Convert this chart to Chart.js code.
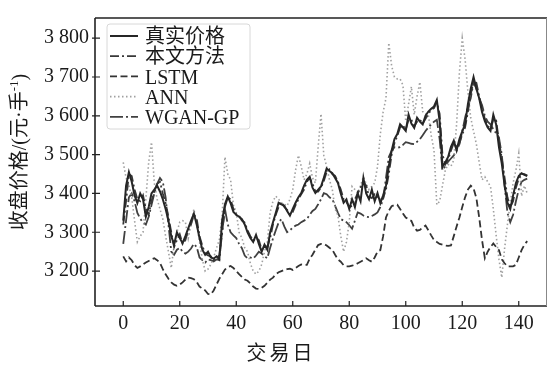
<!DOCTYPE html>
<html><head><meta charset="utf-8">
<script src="https://cdn.jsdelivr.net/npm/chart.js@4/dist/chart.umd.min.js"></script>
<style>html,body{margin:0;padding:0;background:#fff}#wrap{width:548px;height:365px}</style>
</head><body><div id="wrap"><canvas id="c" width="548" height="365"></canvas></div>
<script>
const days = Array.from({length:144},(_,i)=>i);
const seriesNames = ['真实价格','本文方法','LSTM','ANN','WGAN-GP'];
const truePrice = [
3330,3420,3455,3430,3395,3375,3400,3385,3340,3365,
3400,3410,3420,3405,3385,3360,3330,3290,3268,3300,
3285,3272,3290,3310,3330,3348,3320,3285,3255,3242,
3250,3235,3232,3238,3230,3330,3372,3392,3375,3352,
3345,3340,3334,3320,3300,3285,3275,3293,3270,3250,
3268,3255,3300,3326,3350,3376,3372,3368,3355,3343,
3360,3376,3390,3401,3420,3435,3443,3415,3401,3410,
3418,3440,3464,3458,3452,3440,3427,3400,3376,3385,
3360,3385,3365,3400,3380,3440,3400,3385,3410,3380,
3401,3375,3395,3420,3470,3510,3540,3553,3578,3570,
3561,3603,3580,3569,3595,3585,3578,3600,3611,3618,
3624,3641,3586,3469,3480,3494,3520,3536,3511,3540,
3560,3578,3630,3670,3700,3670,3645,3610,3586,3570,
3561,3603,3578,3519,3477,3420,3376,3360,3395,3427,
3445,3452,3448,3445];
const ourMethod = [
3320,3380,3450,3445,3410,3385,3380,3395,3360,3345,
3380,3405,3425,3430,3400,3375,3340,3300,3262,3280,
3295,3270,3280,3305,3320,3345,3335,3290,3265,3245,
3240,3238,3228,3235,3240,3300,3365,3390,3385,3360,
3345,3342,3330,3325,3305,3290,3278,3285,3280,3255,
3260,3262,3285,3320,3345,3365,3378,3365,3358,3345,
3352,3370,3385,3398,3410,3430,3440,3425,3405,3405,
3415,3432,3455,3462,3450,3445,3430,3410,3385,3378,
3365,3368,3385,3400,3415,3430,3420,3392,3388,3398,
3392,3384,3388,3410,3450,3500,3530,3548,3570,3575,
3565,3590,3590,3572,3585,3590,3580,3592,3605,3615,
3620,3635,3605,3500,3475,3488,3510,3530,3520,3530,
3552,3570,3610,3655,3690,3685,3650,3620,3592,3575,
3565,3590,3588,3535,3490,3440,3390,3365,3380,3415,
3438,3450,3450,3446];
const lstm = [
3238,3225,3235,3228,3215,3208,3212,3217,3222,3226,
3230,3233,3228,3221,3205,3192,3180,3171,3165,3162,
3165,3171,3178,3183,3182,3179,3172,3160,3155,3150,
3141,3140,3150,3165,3180,3192,3204,3210,3213,3208,
3200,3192,3185,3178,3175,3168,3160,3155,3154,3157,
3162,3170,3178,3183,3192,3197,3200,3203,3205,3206,
3203,3208,3213,3217,3216,3216,3232,3242,3255,3267,
3270,3270,3266,3260,3255,3242,3230,3224,3215,3212,
3212,3214,3216,3220,3224,3228,3233,3228,3224,3235,
3250,3254,3290,3338,3355,3367,3370,3371,3360,3348,
3338,3333,3329,3312,3304,3306,3312,3317,3305,3292,
3280,3275,3270,3268,3266,3265,3266,3290,3315,3338,
3365,3390,3410,3420,3413,3388,3338,3280,3233,3250,
3262,3271,3262,3254,3230,3220,3212,3212,3212,3216,
3235,3254,3268,3277];
const ann = [
3480,3440,3420,3390,3330,3275,3290,3300,3385,3480,
3532,3427,3385,3360,3334,3290,3250,3208,3267,3300,
3326,3330,3326,3284,3320,3360,3320,3275,3230,3200,
3205,3217,3235,3259,3280,3343,3494,3450,3435,3370,
3351,3300,3285,3260,3250,3220,3200,3192,3200,3217,
3250,3275,3351,3380,3393,3385,3376,3372,3368,3385,
3410,3460,3498,3470,3435,3450,3477,3440,3427,3520,
3605,3498,3469,3435,3410,3360,3343,3290,3250,3275,
3326,3418,3410,3401,3420,3443,3425,3410,3418,3427,
3469,3553,3610,3645,3788,3729,3700,3695,3695,3679,
3586,3630,3675,3603,3650,3687,3611,3605,3603,3550,
3511,3371,3380,3420,3460,3475,3470,3486,3578,3712,
3800,3746,3662,3595,3560,3527,3480,3435,3443,3430,
3418,3360,3292,3230,3183,3259,3320,3376,3427,3460,
3503,3393,3420,3400];
const wgan = [
3270,3330,3390,3400,3380,3350,3335,3325,3320,3340,
3370,3400,3425,3440,3430,3390,3320,3250,3242,3255,
3260,3250,3245,3250,3258,3270,3262,3235,3228,3222,
3230,3228,3225,3230,3228,3300,3360,3320,3300,3292,
3285,3270,3259,3240,3233,3235,3232,3240,3250,3245,
3238,3233,3260,3284,3305,3325,3334,3315,3300,3305,
3312,3317,3320,3326,3330,3334,3345,3355,3360,3372,
3385,3401,3398,3390,3385,3368,3350,3334,3330,3326,
3318,3309,3330,3351,3348,3343,3340,3339,3342,3346,
3351,3365,3385,3440,3494,3510,3519,3518,3519,3525,
3532,3530,3528,3527,3533,3540,3550,3561,3570,3578,
3585,3590,3540,3460,3470,3482,3490,3498,3510,3527,
3560,3595,3625,3645,3687,3670,3645,3628,3600,3585,
3578,3565,3555,3544,3500,3420,3350,3326,3345,3380,
3410,3430,3435,3438];
const xTicks = [0,20,40,60,80,100,120,140];
const yTicks = [3200,3300,3400,3500,3600,3700,3800];

const styles = [
  {color:'#262626', width:2.0, dash:[]},
  {color:'#383838', width:1.8, dash:[9,3,2,3]},
  {color:'#333333', width:1.8, dash:[7,3.5]},
  {color:'#a0a0a0', width:1.6, dash:[1.5,2.5]},
  {color:'#404040', width:1.8, dash:[13,3,2,3]}
];
const allSeries = [truePrice, ourMethod, lstm, ann, wgan];
const datasets = allSeries.map((arr,k)=>({
  label: seriesNames[k],
  data: arr.map((v,i)=>({x:days[i], y:v})),
  borderColor: styles[k].color,
  borderWidth: styles[k].width,
  borderDash: styles[k].dash,
  pointRadius: 0,
  tension: 0,
  fill: false
}));

const SERIF = '"Liberation Serif", "Noto Sans CJK SC", serif';
const fmt = v => String(v).replace(/\B(?=(\d{3})+(?!\d))/g,' ');

const decor = {
  id:'decor',
  beforeDraw(chart){
    const c = chart.ctx;
    c.save(); c.fillStyle='#fff'; c.fillRect(0,0,chart.width,chart.height); c.restore();
  },
  afterDraw(chart){
    const c = chart.ctx, a = chart.chartArea, xs = chart.scales.x, ys = chart.scales.y;
    c.save();
    // frame
    c.strokeStyle='#222'; c.lineWidth=1.6;
    c.beginPath();
    c.moveTo(a.left, a.top); c.lineTo(a.right, a.top);
    c.moveTo(a.left, a.top); c.lineTo(a.left, a.bottom);
    c.moveTo(a.left, a.bottom); c.lineTo(a.right, a.bottom);
    c.stroke();
    c.strokeStyle='#888'; c.lineWidth=1;
    c.beginPath(); c.moveTo(a.right-0.5, a.top); c.lineTo(a.right-0.5, a.bottom); c.stroke();
    // ticks
    c.strokeStyle='#222'; c.lineWidth=1.2;
    c.beginPath();
    xTicks.forEach(v=>{const p=xs.getPixelForValue(v); c.moveTo(p,a.bottom); c.lineTo(p,a.bottom-5);});
    yTicks.forEach(v=>{const p=ys.getPixelForValue(v); c.moveTo(a.left-3,p); c.lineTo(a.left+5,p);});
    c.stroke();
    // legend
    const lx=107, ly=24, lw=143, lh=105, r=3;
    c.fillStyle='rgba(255,255,255,0.85)'; c.strokeStyle='#d8d8d8'; c.lineWidth=1;
    c.beginPath();
    c.moveTo(lx+r,ly); c.lineTo(lx+lw-r,ly); c.arcTo(lx+lw,ly,lx+lw,ly+r,r);
    c.lineTo(lx+lw,ly+lh-r); c.arcTo(lx+lw,ly+lh,lx+lw-r,ly+lh,r);
    c.lineTo(lx+r,ly+lh); c.arcTo(lx,ly+lh,lx,ly+lh-r,r);
    c.lineTo(lx,ly+r); c.arcTo(lx,ly,lx+r,ly,r); c.closePath();
    c.fill(); c.stroke();
    c.font='20px '+SERIF; c.textBaseline='middle'; c.textAlign='left';
    seriesNames.forEach((name,k)=>{
      const y = 36 + k*20.2;
      c.strokeStyle=styles[k].color; c.lineWidth=styles[k].width; c.setLineDash(styles[k].dash);
      c.beginPath(); c.moveTo(110,y); c.lineTo(138,y); c.stroke();
      c.setLineDash([]);
      c.fillStyle='#1a1a1a';
      c.fillText(name, 145, y+2);
    });
    // x title
    c.fillStyle='#1a1a1a';
    c.font='20px '+SERIF; c.textAlign='center'; c.textBaseline='middle';
    if ('letterSpacing' in c) c.letterSpacing='3px';
    c.fillText('交易日', 281, 355);
    if ('letterSpacing' in c) c.letterSpacing='0px';
    // y title (rotated)
    c.translate(21, 152); c.rotate(-Math.PI/2);
    const parts = [['收盘价格/(元·手',20,0],['-1',13,-6],[')',20,0]];
    let total=0; parts.forEach(p=>{c.font=p[1]+'px '+SERIF; total+=c.measureText(p[0]).width;});
    let x=-total/2; c.textAlign='left';
    parts.forEach(p=>{c.font=p[1]+'px '+SERIF; c.fillText(p[0], x, p[2]); x+=c.measureText(p[0]).width;});
    c.restore();
  }
};

new Chart(document.getElementById('c'), {
  type:'line',
  data:{datasets},
  options:{
    responsive:false, animation:false, devicePixelRatio:1,
    layout:{padding:{top:11,right:1,left:0,bottom:0}},
    plugins:{legend:{display:false}, tooltip:{enabled:false}},
    scales:{
      x:{type:'linear', min:-10, max:150,
        afterBuildTicks:s=>{s.ticks=xTicks.map(v=>({value:v}));},
        afterFit:s=>{s.height=59;},
        grid:{display:false, drawTicks:false}, border:{display:false},
        ticks:{font:{family:SERIF,size:20}, color:'#1a1a1a', padding:6, maxRotation:0, autoSkip:false}
      },
      y:{type:'linear', min:3110, max:3852,
        afterBuildTicks:s=>{s.ticks=yTicks.map(v=>({value:v}));},
        afterFit:s=>{s.width=95;},
        grid:{display:false, drawTicks:false}, border:{display:false},
        ticks:{font:{family:SERIF,size:20}, color:'#1a1a1a', padding:6, callback:v=>fmt(v)}
      }
    }
  },
  plugins:[decor]
});
</script></body></html>
